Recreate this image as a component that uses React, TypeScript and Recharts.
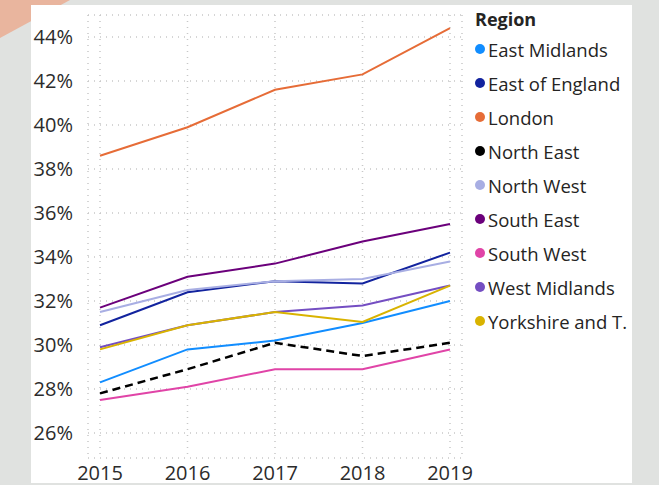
import { CartesianGrid, Line, LineChart, XAxis, YAxis } from "recharts";

const years = [2015, 2016, 2017, 2018, 2019];
const yTicks = [26, 28, 30, 32, 34, 36, 38, 40, 42, 44];

const eastMidlands = [28.3, 29.8, 30.2, 31.0, 32.0];
const eastOfEngland = [30.9, 32.4, 32.9, 32.8, 34.2];
const london = [38.6, 39.9, 41.6, 42.3, 44.4];
const northEast = [27.8, 28.9, 30.1, 29.5, 30.1];
const northWest = [31.5, 32.5, 32.9, 33.0, 33.8];
const southEast = [31.7, 33.1, 33.7, 34.7, 35.5];
const southWest = [27.5, 28.1, 28.9, 28.9, 29.8];
const westMidlands = [29.9, 30.9, 31.5, 31.8, 32.7];
const yorkshire = [29.8, 30.9, 31.5, 31.05, 32.7];

const series = [
  { key: "East Midlands", values: eastMidlands, color: "#118DFF" },
  { key: "East of England", values: eastOfEngland, color: "#12239E" },
  { key: "London", values: london, color: "#E66C37" },
  { key: "North East", values: northEast, color: "#000000", dashed: true },
  { key: "North West", values: northWest, color: "#A8AEE3" },
  { key: "South East", values: southEast, color: "#6B007B" },
  { key: "South West", values: southWest, color: "#E044A7" },
  { key: "West Midlands", values: westMidlands, color: "#744EC2" },
  { key: "Yorkshire and T.", values: yorkshire, color: "#D9B300" },
];

const data = years.map((year, i) => {
  const row: any = { year };
  series.forEach((s) => (row[s.key] = s.values[i]));
  return row;
});

const FONT = "'Open Sans', 'Noto Sans', sans-serif";

const App = () => {
  return (
    <div
      style={{
        position: "fixed",
        left: 0,
        top: 0,
        width: 659,
        height: 485,
        background: "#e0e2e0",
        overflow: "hidden",
        fontFamily: FONT,
      }}
    >
      <svg width={659} height={485} style={{ position: "absolute", left: 0, top: 0 }}>
        <polygon points="0,0 70,0 0,38" fill="#e9b59e" />
      </svg>
      <div
        style={{
          position: "absolute",
          left: 31,
          top: 5,
          width: 601,
          height: 478,
          background: "#ffffff",
        }}
      />
      <LineChart
        width={659}
        height={485}
        data={data}
        margin={{ top: 15, right: 197, bottom: 0, left: 8 }}
        style={{ position: "absolute", left: 0, top: 0 }}
      >
        <CartesianGrid stroke="#c8c8c8" strokeDasharray="1 5" strokeWidth={1.5} />
        <XAxis
          dataKey="year"
          type="number"
          domain={[2015, 2019]}
          ticks={years}
          padding={{ left: 12, right: 12 }}
          tickLine={false}
          axisLine={false}
          height={27}
          tickMargin={2}
          tick={{ fill: "#2b2b2b", fontSize: 20, fontFamily: FONT }}
        />
        <YAxis
          type="number"
          domain={[25, 45]}
          ticks={yTicks}
          padding={{ bottom: 3 }}
          allowDataOverflow
          tickFormatter={(v: number) => `${v}%`}
          tickLine={false}
          axisLine={false}
          width={80}
          tickMargin={9}
          tick={{ fill: "#2b2b2b", fontSize: 20, fontFamily: FONT }}
        />
        {series.map((s) => (
          <Line
            key={s.key}
            dataKey={s.key}
            stroke={s.color}
            strokeWidth={s.dashed ? 2.5 : 2}
            strokeDasharray={s.dashed ? "8 5" : undefined}
            dot={false}
            isAnimationActive={false}
          />
        ))}
      </LineChart>
      <div style={{ position: "absolute", left: 475, top: 6, color: "#252423" }}>
        <div style={{ fontWeight: 700, fontSize: 18, height: 26, lineHeight: "26px" }}>Region</div>
        {series.map((s) => (
          <div
            key={s.key}
            style={{ display: "flex", alignItems: "center", height: 34, fontSize: 18.5, whiteSpace: "nowrap" }}
          >
            <span
              style={{
                display: "inline-block",
                width: 10,
                height: 10,
                borderRadius: 5,
                background: s.color,
                marginRight: 3,
              }}
            />
            {s.key}
          </div>
        ))}
      </div>
    </div>
  );
};

export default App;
